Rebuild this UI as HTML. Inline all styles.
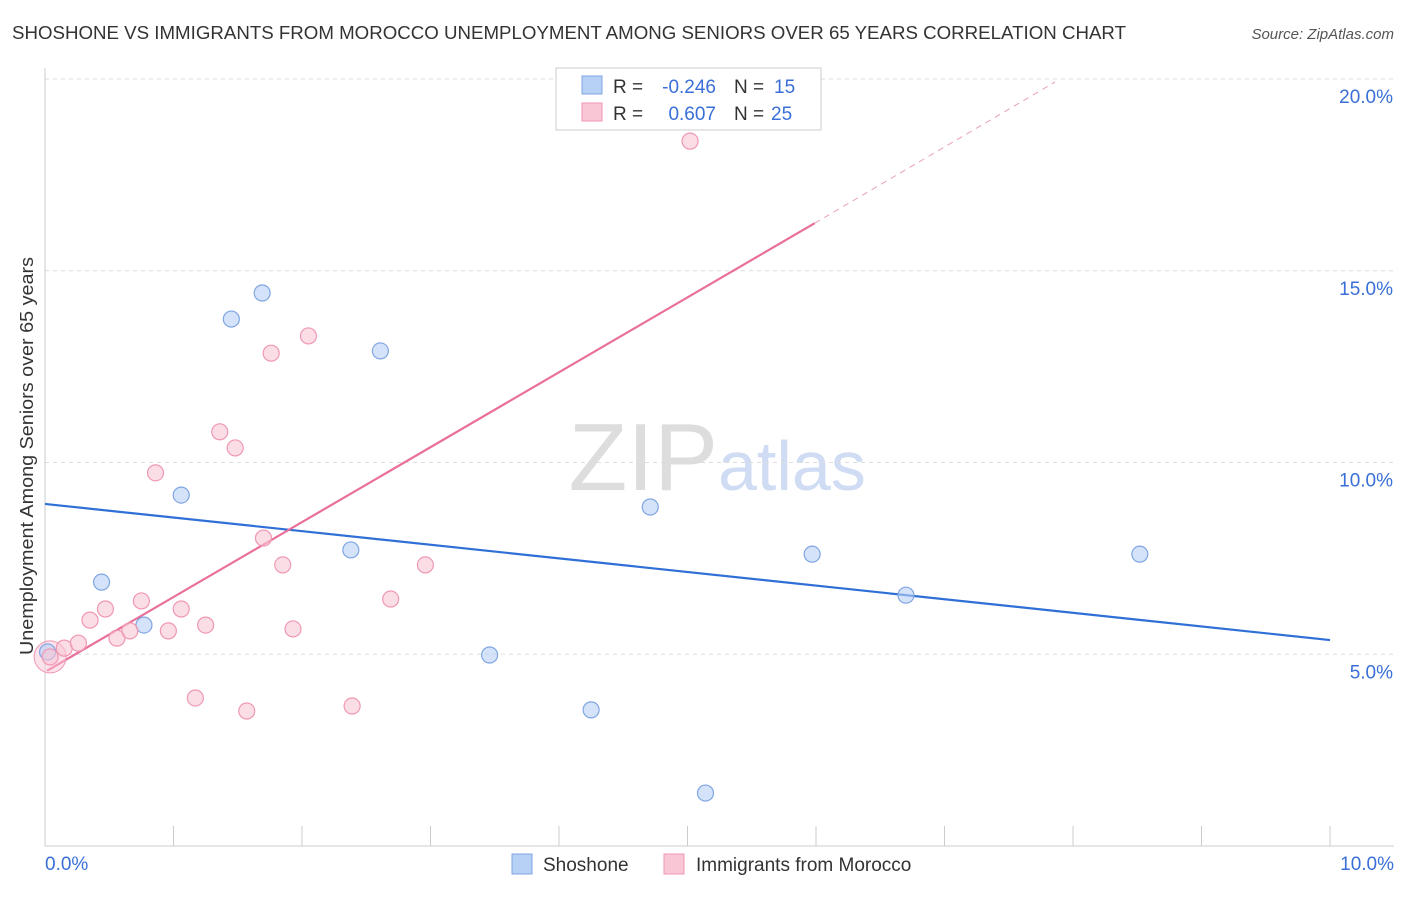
<!DOCTYPE html>
<html><head><meta charset="utf-8"><style>
body{margin:0;background:#fff;font-family:"Liberation Sans",sans-serif}
svg text{font-family:"Liberation Sans",sans-serif}
</style></head><body>
<svg id="chart" width="1406" height="892" xmlns="http://www.w3.org/2000/svg">
<text x="12" y="39" font-size="18.5" fill="#333" textLength="1114" lengthAdjust="spacingAndGlyphs">SHOSHONE VS IMMIGRANTS FROM MOROCCO UNEMPLOYMENT AMONG SENIORS OVER 65 YEARS CORRELATION CHART</text>
<text x="1394" y="39" font-size="15" fill="#555" text-anchor="end" font-style="italic">Source: ZipAtlas.com</text>
<text transform="translate(33,456) rotate(-90)" font-size="18" fill="#333" text-anchor="middle" textLength="398" lengthAdjust="spacingAndGlyphs">Unemployment Among Seniors over 65 years</text>
<text x="718" y="490" font-size="96" fill="#ddd" text-anchor="end" font-family="Liberation Serif">ZIP</text>
<text x="718" y="490" font-size="70" fill="#cfdcf3">atlas</text>
<g id="grid"></g><g id="axes"></g><g id="lines"></g><g id="pts"></g>
<g>
<rect x="556" y="68" width="265" height="62" fill="#fff" stroke="#ccc"/>
<rect x="582" y="76" width="20" height="18" fill="#b7d0f5" stroke="#7fa6e3"/>
<rect x="582" y="103" width="20" height="18" fill="#f9c6d5" stroke="#ef98b2"/>
<text x="613" y="93" font-size="19" fill="#333">R =</text>
<text x="716" y="93" font-size="19" fill="#3a6fd8" text-anchor="end">-0.246</text>
<text x="734" y="93" font-size="19" fill="#333">N =</text>
<text x="774" y="93" font-size="19" fill="#3a6fd8">15</text>
<text x="613" y="120" font-size="19" fill="#333">R =</text>
<text x="716" y="120" font-size="19" fill="#3a6fd8" text-anchor="end">0.607</text>
<text x="734" y="120" font-size="19" fill="#333">N =</text>
<text x="771" y="120" font-size="19" fill="#3a6fd8">25</text>
</g>
<g>
<rect x="512" y="854" width="20" height="20" fill="#b7d0f5" stroke="#7fa6e3"/>
<text x="543" y="871" font-size="19" fill="#333">Shoshone</text>
<rect x="664" y="854" width="20" height="20" fill="#f9c6d5" stroke="#ef98b2"/>
<text x="696" y="871" font-size="19" fill="#333">Immigrants from Morocco</text>
</g>
</svg>
<script>
const blueX=[0.02,0.44,0.77,1.06,1.45,1.69,2.38,2.61,3.46,4.25,4.71,5.14,5.97,6.70,8.52];
const blueY=[5.06,6.88,5.76,9.15,13.74,14.42,7.72,12.91,4.98,3.55,8.84,1.38,7.61,6.54,7.61];
const pinkX=[0.04,0.15,0.26,0.35,0.47,0.56,0.66,0.75,0.96,1.06,1.17,1.25,1.36,1.48,0.86,1.57,1.70,1.76,1.85,1.93,2.05,2.39,2.69,2.96,5.02];
const pinkY=[4.93,5.16,5.29,5.89,6.18,5.42,5.61,6.39,5.61,6.18,3.86,5.76,10.80,10.38,9.73,3.52,8.03,12.85,7.33,5.66,13.30,3.65,6.44,7.33,18.38];
const yTicks=[5,10,15,20];
const yTickLabels=["5.0%","10.0%","15.0%","20.0%"];
const xTicks=[0,1,2,3,4,5,6,7,8,9,10];
const blueTrend=[[0,8.92],[10,5.37]];
const pinkTrend=[[0.016,4.57],[5.99,16.24]];
const pinkDash=[[5.99,16.24],[7.86,19.92]];
const NS="http://www.w3.org/2000/svg";
const sx=v=>45+v*128.5, sy=v=>846-v*38.35;
function mk(t,a,p){const e=document.createElementNS(NS,t);for(const k in a)e.setAttribute(k,a[k]);document.getElementById(p).appendChild(e);return e;}
yTicks.forEach((t,i)=>{
 const l=mk('line',{x1:45,x2:1394,y1:sy(t),y2:sy(t),stroke:'#ddd','stroke-dasharray':'4,4'},'grid');
 
 
 const tx=mk('text',{x:1393,y:sy(t)+24,'font-size':19,fill:'#3a6fd8','text-anchor':'end'},'axes');
 tx.textContent=yTickLabels[i];
 
 
});
mk('line',{x1:45,x2:45,y1:68,y2:846,stroke:'#ccc'},'axes');
mk('line',{x1:45,x2:1394,y1:846,y2:846,stroke:'#ccc'},'axes');
xTicks.forEach(t=>{const l=mk('line',{x1:sx(t),x2:sx(t),y1:826,y2:846,stroke:'#ccc'},'axes');
 
 });
let t0=mk('text',{x:45,y:870,'font-size':19,fill:'#3a6fd8'},'axes');t0.textContent='0.0%';


let t1=mk('text',{x:1394,y:870,'font-size':19,fill:'#3a6fd8','text-anchor':'end'},'axes');t1.textContent='10.0%';


function line(d,c,dash,name){const l=mk('line',{x1:sx(d[0][0]),y1:sy(d[0][1]),x2:sx(d[1][0]),y2:sy(d[1][1]),stroke:c,'stroke-width':dash?1:2.2,'stroke-dasharray':dash?'6,5':'none'},'lines');
 
 }
line(blueTrend,'#2f6fd6',false,'shoshone-trendline');
line(pinkTrend,'#e8709a',false,'morocco-trendline');
line(pinkDash,'#e8a0b8',true,'morocco-trendline-extension');
const big=mk('circle',{cx:sx(0.04),cy:sy(4.93),r:16,fill:'rgba(249,198,213,0.5)',stroke:'#ef98b2'},'pts');


blueX.forEach((x,i)=>{const c=mk('circle',{cx:sx(x),cy:sy(blueY[i]),r:8,fill:'rgba(183,208,245,0.6)',stroke:'#7fa6e3','stroke-width':1.2},'pts');
 
 });
pinkX.forEach((x,i)=>{const c=mk('circle',{cx:sx(x),cy:sy(pinkY[i]),r:8,fill:'rgba(249,198,213,0.6)',stroke:'#ef98b2','stroke-width':1.2},'pts');
 
 });
</script>
</body></html>
